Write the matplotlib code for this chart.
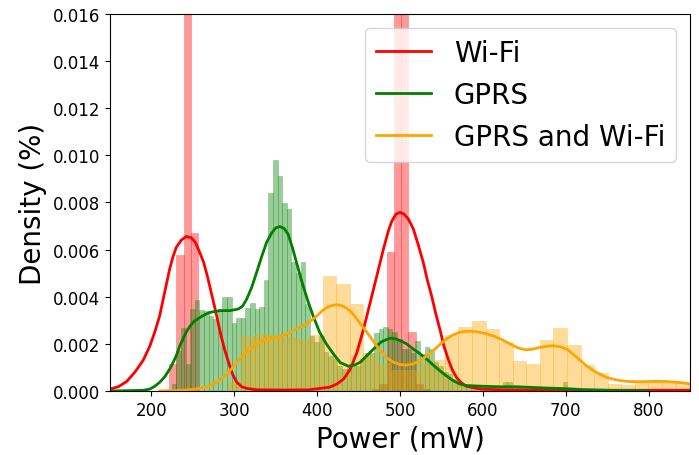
import numpy as np
import matplotlib.pyplot as plt

# --- histogram heights (density) ---
wifi_start, wifi_width = 221.2, 8.75
wifi_hist = [0.00115, 0.00577, 0.033, 0.0067, 0, 0, 0, 0, 0, 0,
             0, 0, 0, 0, 0, 0, 0, 0, 0, 0,
             0, 0, 0, 0, 0, 0, 0, 0, 0.0001, 0.0003,
             0.0059, 0.029, 0.027, 0.00252, 0.0003, 0.0001]

gprs_start, gprs_width = 224.5, 5.55
gprs_hist = [0.0003, 0.00171, 0.00267, 0.00115, 0.00348, 0.00386, 0.00344, 0.0034, 0.0032, 0.00306,
             0.0035, 0.00398, 0.00398, 0.00287, 0.0031, 0.0031, 0.00352, 0.00373, 0.0035, 0.00358,
             0.00472, 0.0084, 0.00982, 0.00914, 0.00798, 0.00772, 0.00546, 0.005, 0.00546, 0.00369,
             0.00235, 0.00207, 0.00232, 0.00165, 0.0015, 0.00136, 0.00107, 0.00093, 0.001, 0.00115,
             0.00107, 0.00136, 0.00161, 0.0016, 0.00245, 0.00263, 0.00273, 0.00263, 0.0025, 0.0022,
             0.0018, 0.0018, 0.0016, 0.00211, 0.00157, 0.00188, 0.0018, 0.00122, 0.00107, 0.00079,
             0.0007, 0.0005, 0.0004, 0.0003, 0.00025, 0.00022, 0.0002, 0.0002, 0.00018, 0.00015,
             0.0002, 0.00015, 0.0004, 0.0004, 0.0002, 0.0002, 0.00015, 0.0002, 0.00015, 0.0001,
             0.00015, 0.0001, 0.0001, 0.0001, 0.0001, 0.0004, 0.0001, 0.00005, 0.00005]

both_start, both_width = 292.05, 16.38
both_hist = [0.00037, 0.00232, 0.00242, 0.00238, 0.00228, 0.00221, 0.00238, 0.00489, 0.00454, 0.00369,
             0.0016, 0.0012, 0.0009, 0.0009, 0.0012, 0.0013, 0.00238, 0.0027, 0.00297, 0.00263,
             0.00207, 0.00126, 0.00115, 0.00216, 0.00267, 0.00195, 0.0011, 0.00076, 0.0003, 0.00025,
             0.00037, 0.00037, 0.00037, 0.00034, 0.0003, 0.0002]

# --- kde curves ---
wifi_kde_x = [150, 160, 170, 180, 190, 198, 204, 210, 216, 222, 226, 230, 236, 242, 248, 253, 258, 263,
              268, 273, 278, 283, 288, 293, 298, 303, 309, 315, 327, 360, 390, 415, 424, 432, 440, 448,
              456, 464, 472, 480, 486, 490, 495, 500, 505, 510, 516, 522, 528, 533, 538, 543, 548, 553,
              558, 563, 568, 574, 580, 597, 621, 700, 850]
wifi_kde_y = [0.00008, 0.00018, 0.0004, 0.0008, 0.0013, 0.0019, 0.0025, 0.0032, 0.0042, 0.00518, 0.0057,
              0.0061, 0.0064, 0.00656, 0.0065, 0.00631, 0.0059, 0.00546,
              0.0048, 0.00405, 0.0033, 0.00249, 0.0018, 0.00122, 0.0007, 0.00037, 0.00018, 0.00011,
              0.00005, 0.00004, 0.00005, 0.00016, 0.0003, 0.00051, 0.00093, 0.00164,
              0.00263, 0.00376, 0.00489, 0.00603, 0.0068, 0.0072, 0.0075, 0.00758, 0.0075, 0.0073,
              0.00688, 0.0062, 0.00546, 0.0047, 0.00405, 0.0033, 0.00263, 0.0019,
              0.00136, 0.0009, 0.00058, 0.00035, 0.0002, 0.00008, 0.00005, 0.00003, 0.00003]

gprs_kde_x = [150, 180, 190, 198, 204, 210, 216, 222, 226, 230, 234, 238, 242, 247, 252, 259, 265, 271,
              283, 295, 305, 310, 315, 321, 327, 333, 339, 345, 350, 355, 360, 365, 370, 375, 381, 388,
              395, 403, 411, 419, 428, 438, 445, 452, 460, 468, 478, 488, 494, 500, 508, 516, 524, 532,
              540, 548, 556, 564, 572, 580, 600, 620, 640, 660, 680, 700, 720, 740, 760, 780, 800]
gprs_kde_y = [0.0, 0.00002, 0.00003, 0.00008, 0.0002, 0.00037, 0.0006, 0.00093, 0.0012, 0.0015, 0.0019,
              0.0022, 0.0025, 0.00277, 0.00297, 0.00313, 0.00325, 0.00334,
              0.00341, 0.00341, 0.00348, 0.0036, 0.0039, 0.0044, 0.00504, 0.0057, 0.00631, 0.0067,
              0.00692, 0.00698, 0.0069, 0.00665, 0.0061, 0.00546, 0.0047, 0.0039,
              0.0032, 0.00249, 0.002, 0.0016, 0.0012, 0.00105, 0.0011, 0.00122, 0.0015, 0.00178,
              0.0021, 0.00224, 0.00222, 0.00214, 0.002, 0.00178, 0.00158, 0.00136,
              0.0011, 0.00086, 0.00064, 0.00044, 0.0003, 0.00023, 0.0002, 0.00018, 0.00018, 0.00015,
              0.00012, 0.0001, 0.00006, 0.00004, 0.00002, 0.00001, 0.0]

both_kde_x = [210, 230, 250, 267, 279, 291, 297, 303, 309, 315, 321, 327, 333, 339, 345, 351, 357, 363,
              369, 375, 381, 387, 393, 400, 406, 412, 418, 424, 430, 436, 442, 448, 454, 460, 468, 476,
              484, 492, 500, 508, 516, 524, 532, 540, 548, 556, 564, 572, 580, 588, 596, 605, 613, 621,
              631, 641, 647, 653, 661, 669, 677, 685, 693, 701, 707, 713, 719, 725, 731, 737, 743, 749,
              757, 766, 776, 786, 798, 810, 822, 834, 842, 850]
both_kde_y = [0.0, 0.00002, 0.00006, 0.00016, 0.00037, 0.00072, 0.00095, 0.00122, 0.00146, 0.00167,
              0.00185, 0.002, 0.00212, 0.00221, 0.00225, 0.00228, 0.00234, 0.00242,
              0.00252, 0.00263, 0.00273, 0.00284, 0.003, 0.0032, 0.0034, 0.00355, 0.00363, 0.00366,
              0.00362, 0.0035, 0.00332, 0.00305, 0.00277, 0.00249, 0.0021, 0.00171,
              0.0014, 0.00122, 0.00112, 0.0011, 0.00115, 0.00129, 0.00148, 0.00171, 0.00197, 0.00221,
              0.00238, 0.00249, 0.00253, 0.00253, 0.00249, 0.00242, 0.00233, 0.00221,
              0.00203, 0.00185, 0.00178, 0.00175, 0.00178, 0.00185, 0.0019, 0.00192, 0.00188, 0.00178,
              0.00162, 0.00143, 0.00125, 0.00107, 0.00092, 0.00079, 0.00068, 0.00058,
              0.0005, 0.00044, 0.0004, 0.00039, 0.0004, 0.00041, 0.0004, 0.00037, 0.00034, 0.0003]

labels = ['Wi-Fi', 'GPRS', 'GPRS and Wi-Fi']
colors = ['red', 'green', 'orange']

fig = plt.figure(figsize=(6.99, 4.56), dpi=100)
ax = fig.add_axes([0.1574, 0.1404, 0.8298, 0.8268])

series = [
    (wifi_start, wifi_width, wifi_hist, wifi_kde_x, wifi_kde_y),
    (gprs_start, gprs_width, gprs_hist, gprs_kde_x, gprs_kde_y),
    (both_start, both_width, both_hist, both_kde_x, both_kde_y),
]

for (start, width, hist, kx, ky), label, color in zip(series, labels, colors):
    lefts = start + width * np.arange(len(hist))
    ax.bar(lefts, hist, width=width, align='edge', color=color, alpha=0.4,
           edgecolor=color, linewidth=0.4)
    ax.plot(kx, ky, color=color, lw=2, label=label, solid_joinstyle='round')

ax.set_xlim(150, 850)
ax.set_ylim(0, 0.016)
ax.set_yticks(np.arange(0, 0.0161, 0.002))
ax.yaxis.set_major_formatter(plt.FormatStrFormatter('%.3f'))
ax.tick_params(labelsize=12)
ax.set_xlabel('Power (mW)', fontsize=20)
ax.set_ylabel('Density (%)', fontsize=20)
ax.legend(fontsize=20, loc='upper right')

fig.savefig('out.png', dpi=100)
